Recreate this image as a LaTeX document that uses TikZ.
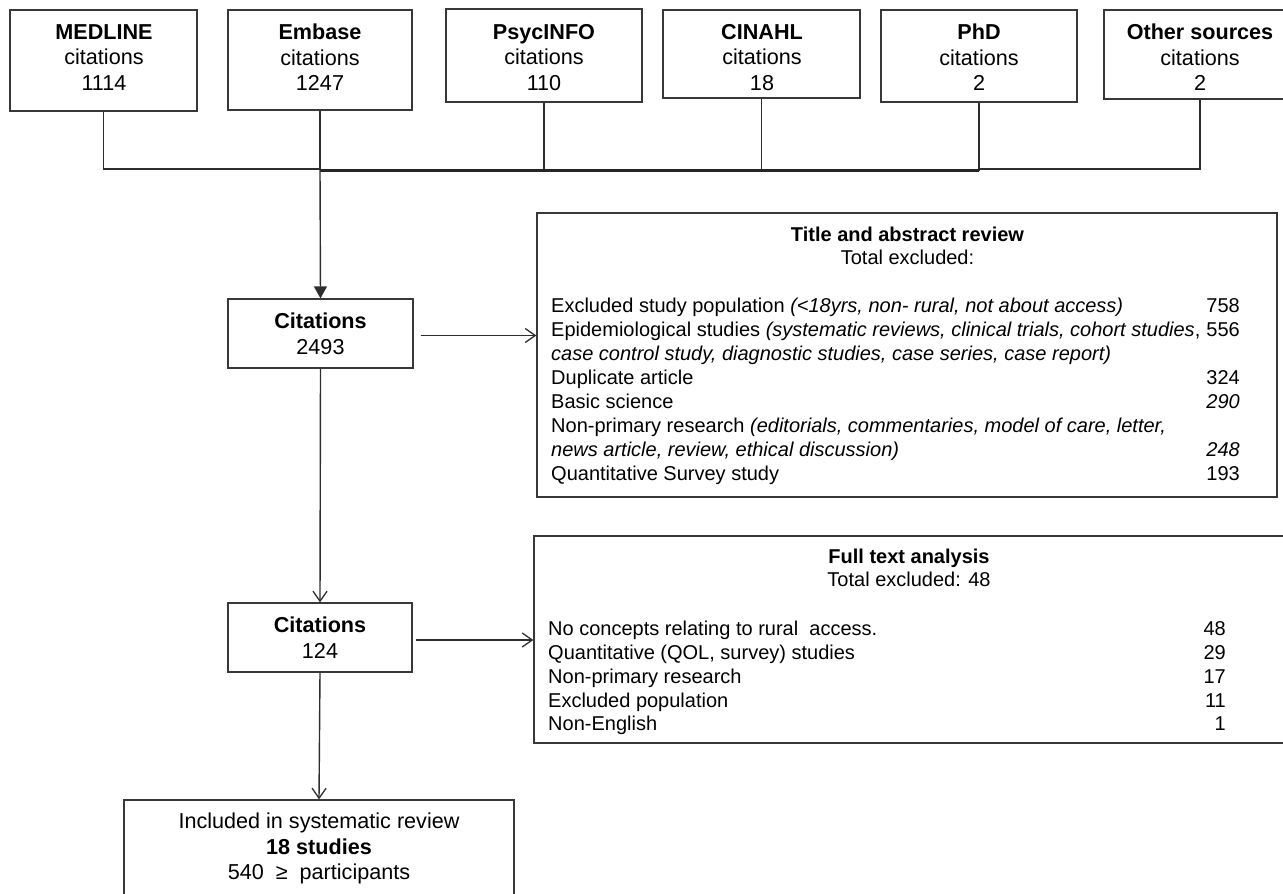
\documentclass[tikz,border=0pt]{standalone}
\usepackage{fontspec}
\setmainfont{Liberation Sans}
\usetikzlibrary{arrows.meta}
\begin{document}
\begin{tikzpicture}[x=1pt,y=-1pt,
 box/.style={draw=black!78, line width=1.3pt, inner sep=0pt},
 conn/.style={draw=black!82, line width=1.4pt},
 heavy/.style={draw=black!85, line width=3pt},
 arr/.style={conn, -{Straight Barb[length=10pt,width=14pt,line width=1.3pt]}},
 farr/.style={conn, -{Triangle[length=12pt,width=13pt]}},
 btxt/.style={font=\fontsize{21.6}{25.5}\selectfont, align=center, inner sep=0pt, anchor=north,
   execute at begin node={\rule{0pt}{16pt}}},
 ltxt/.style={font=\fontsize{20}{24}\selectfont, inner sep=0pt, anchor=base west},
 ntxt/.style={font=\fontsize{20}{24}\selectfont, inner sep=0pt, anchor=base east},
 ttxt/.style={font=\fontsize{20}{24}\selectfont, inner sep=0pt, anchor=base},
]
\useasboundingbox (0,0) rectangle (1283,894);
% top source boxes
\node[box, minimum width=187pt, minimum height=101pt] (med) at (103.5,60.5) {};
\node[box, minimum width=184pt, minimum height=100pt] (emb) at (320,60) {};
\node[box, minimum width=196pt, minimum height=93pt] (psy) at (544,55.5) {};
\node[box, minimum width=197pt, minimum height=88pt] (cin) at (761.5,54) {};
\node[box, minimum width=196pt, minimum height=92pt] (phd) at (979,56) {};
\node[box, minimum width=192pt, minimum height=89pt] (oth) at (1200,54.5) {};
\node[btxt] (medt) at (104,24) {\textbf{MEDLINE}\\citations\\1114};
\node[btxt] (embt) at (320,24) {\textbf{Embase}\\citations\\1247};
\node[btxt] (psyt) at (544,24) {\textbf{PsycINFO}\\citations\\110};
\node[btxt] (cint) at (762,24) {\textbf{CINAHL}\\citations\\18};
\node[btxt] (phdt) at (979,24) {\textbf{PhD}\\citations\\2};
\node[btxt] (otht) at (1200,24) {\textbf{Other sources}\\citations\\2};
% junction
\coordinate (j) at (320,169);
\coordinate (jp) at (979,170.5);
\draw[conn] (med.south) |- (j);
\draw[conn] (emb.south) -- (j);
\draw[conn] (psy.south) -- (psy.south |- jp);
\draw[conn] (cin.south) -- (cin.south |- jp);
\draw[conn] (phd.south) -- (jp);
\draw[conn] (oth.south) |- (979,169);
\draw[heavy] (320,170.5) -- (jp);
% citations boxes
\node[box, minimum width=185pt, minimum height=69pt] (c1) at (320.5,333.5) {};
\node[btxt] (c1t) at (320.5,313) {\textbf{Citations}\\2493};
\node[box, minimum width=184pt, minimum height=69pt] (c2) at (320,637.5) {};
\node[btxt] (c2t) at (320,617) {\textbf{Citations}\\124};
\node[box, minimum width=390pt, minimum height=130pt] (inc) at (319,865) {};
\node[btxt] (inct) at (319,813) {Included in systematic review\\\textbf{18 studies}\\540\ \ ≥\ \ participants};
% exclusion boxes
\node[box, minimum width=740pt, minimum height=284pt] (tab) at (907,355) {};
\node[box, minimum width=770pt, minimum height=207pt] (fta) at (919,639.5) {};
% arrows
\draw[farr] (j) -- (c1.north);
\draw[arr] (c1.south) -- (c2.north);
\draw[arr] (c2.south) -- (inc.north);
\draw[arr] ([shift={(7pt,-2pt)}]c1.east) coordinate (a1) -- (a1 -| tab.west);
\draw[arr] ([shift={(3pt,-2.5pt)}]c2.east) coordinate (a2) -- (a2 -| fta.west);
% title and abstract review contents
\node[ttxt] (tah) at (907.5,241) {\textbf{Title and abstract review}};
\node[ttxt] (tat) at (907.5,264) {Total excluded:};
\node[ltxt] (r1) at (551,312) {Excluded study population \textit{(<18yrs, non- rural, not about access)}};
\node[ltxt] (r2) at (551,336) {Epidemiological studies \textit{(systematic reviews, clinical trials, cohort studies}, };
\node[ltxt] (r3) at (551,360) {\textit{case control study, diagnostic studies, case series, case report)}};
\node[ltxt] (r4) at (551,384) {Duplicate article};
\node[ltxt] (r5) at (551,408) {Basic science};
\node[ltxt] (r6) at (551,432) {Non-primary research \textit{(editorials, commentaries, model of care, letter,}};
\node[ltxt] (r7) at (551,456) {\textit{news article, review, ethical discussion)}};
\node[ltxt] (r8) at (551,480) {Quantitative Survey study};
\node[ntxt] (n1) at (1240,312) {758};
\node[ntxt] (n2) at (1240,336) {556};
\node[ntxt] (n4) at (1240,384) {324};
\node[ntxt] (n5) at (1240,408) {\textit{290}};
\node[ntxt] (n7) at (1240,456) {\textit{248}};
\node[ntxt] (n8) at (1240,480) {193};
% full text analysis contents
\node[ttxt] (fah) at (909,563) {\textbf{Full text analysis}};
\node[ttxt] (fat) at (909,586) {Total excluded: 48};
\node[ltxt] (s1) at (548,635) {No concepts relating to rural\ \ access.};
\node[ltxt] (s2) at (548,659) {Quantitative (QOL, survey) studies};
\node[ltxt] (s3) at (548,683) {Non-primary research};
\node[ltxt] (s4) at (548,707) {Excluded population};
\node[ltxt] (s5) at (548,730) {Non-English};
\node[ntxt] (m1) at (1226,635) {48};
\node[ntxt] (m2) at (1226,659) {29};
\node[ntxt] (m3) at (1226,683) {17};
\node[ntxt] (m4) at (1226,707) {11};
\node[ntxt] (m5) at (1226,730) {1};
\end{tikzpicture}
\end{document}
